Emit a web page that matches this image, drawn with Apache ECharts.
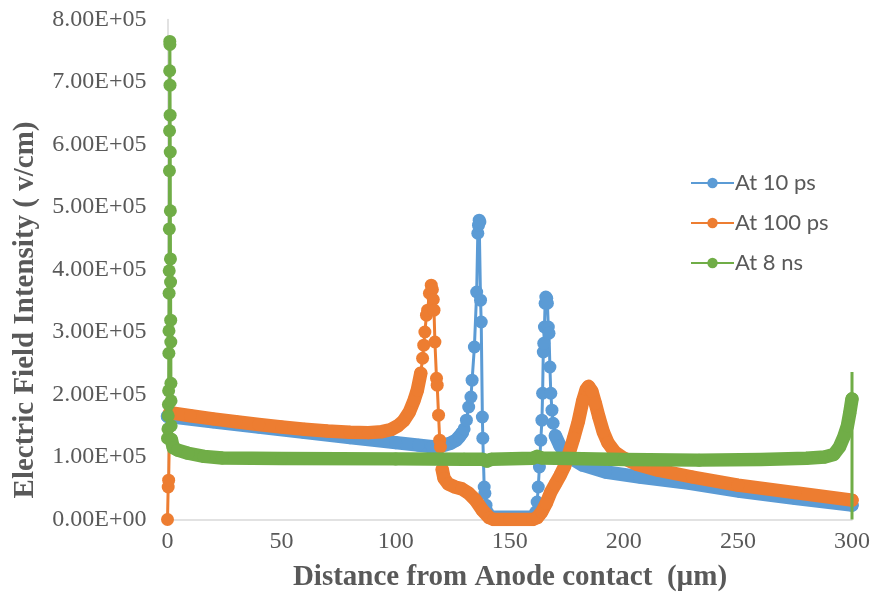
<!DOCTYPE html>
<html>
<head>
<meta charset="utf-8">
<script src="https://cdn.jsdelivr.net/npm/echarts@6/dist/echarts.min.js"></script>
<style>
  html, body { margin: 0; padding: 0; background: #ffffff; }
  #chart { width: 873px; height: 598px; }
</style>
</head>
<body>
<div id="chart"></div>
<script>
// Electric field profiles across the 300 µm detector, three time instants.
// Each point is [distance from anode (µm), field (V/cm)].

const seriesNames = ['At 10 ps', 'At 100 ps', 'At 8 ns'];
const seriesColors = ['#5B9BD5', '#ED7D31', '#70AD47'];

const xTicks = [0, 50, 100, 150, 200, 250, 300];
const yTicks = [0, 1e5, 2e5, 3e5, 4e5, 5e5, 6e5, 7e5, 8e5];

const field10ps = [
  [0, 165000], [20, 156500], [40, 148000], [60, 139500], [80, 131000],
  [100, 123000], [110, 119000], [116, 116500], [120, 117500], [124, 122000],
  [126.5, 127000], [128, 133000], [129.2, 139000],
  [130, 145000], [131, 159000], [132, 180000], [133, 196000], [133.5, 223000],
  [134.5, 276000], [135.5, 364000], [136, 458000], [136.3, 471000], [136.6, 479000],
  [136.9, 476000], [137.2, 351000], [137.5, 316000], [138, 164000], [138.2, 130000],
  [138.8, 52000], [139.1, 42000], [139.6, 23000], [140.2, 12000],
  [161.4, 12000], [162, 28000], [162.5, 52000], [163, 84000], [163.6, 127000],
  [164.1, 159000], [164.4, 202000], [164.7, 268000], [164.9, 282000], [165.2, 308000],
  [165.5, 346000], [165.8, 356000], [166.2, 354000], [166.5, 346000], [166.9, 308000],
  [167.2, 298000], [167.6, 244000], [168, 202000], [168.5, 175000], [169, 154000],
  [170, 134000], [172, 118000], [176, 100000], [182, 87000], [192, 76000],
  [207, 68000], [229, 58000], [251, 45000], [275, 34000], [300, 23000]
];

const field100ps = [
  [0, 0], [0.3, 52000], [0.5, 63000],
  [1, 171000], [10, 166000], [20, 161000], [30, 156500], [40, 152000], [50, 148000],
  [60, 144500], [70, 141500], [80, 139500], [88, 139000], [94, 140500], [98, 144000],
  [101, 150000], [103.5, 158000], [106, 172000], [108, 190000], [109.5, 207000], [111, 234000],
  [111.8, 258000], [112.3, 279000], [112.8, 300000], [113.5, 327000], [114, 335000],
  [114.8, 362000], [115.6, 375000], [116.1, 368000], [116.5, 352000], [116.8, 335000],
  [117.2, 284000], [117.9, 226000], [118.2, 215000], [118.8, 167000], [119.3, 127000],
  [119.6, 116000],
  [120.4, 80000], [121.2, 66000], [123, 57000], [126, 52000], [129, 49000], [132, 42000],
  [135, 31000], [138, 15000], [141, 3000], [143, 0], [150, 0], [160, 0],
  [162, 3000], [164, 12000], [166, 26000], [168, 44000], [170, 57000], [172, 70000],
  [174, 85000], [176, 106000], [178, 130000], [180, 156000], [182, 190000],
  [183.5, 208000], [184.5, 213000], [186, 205000], [187.5, 186000], [189, 165000],
  [191, 140000], [193, 123000], [196, 108000], [200, 98000], [206, 88000],
  [215, 79000], [230, 68000], [250, 55000], [275, 43000], [300, 31000]
];

const field8ns = [
  [0, 130000], [0.2, 145000], [0.3, 166000], [0.4, 184000], [0.5, 206000],
  [0.6, 266000], [0.65, 302000], [0.7, 362000], [0.75, 398000], [0.8, 465000],
  [0.85, 558000], [0.9, 622000], [0.95, 718000], [1.0, 765000],
  [1.05, 760000], [1.1, 695000], [1.15, 647000], [1.2, 588000], [1.25, 494000],
  [1.3, 417000], [1.35, 380000], [1.4, 319000], [1.45, 284000], [1.5, 218000],
  [1.55, 190000], [1.6, 150000], [1.7, 128000],
  [2.5, 115000], [4.5, 111000], [9, 106000], [16, 101000], [24, 98500],
  [50, 97500], [100, 97000], [130, 96500], [138, 96500], [140, 93500], [142, 96500],
  [160, 98000], [162, 101000], [164, 98500], [200, 96000], [233, 95000],
  [260, 96000], [280, 98000], [288, 100000], [292, 104000], [294.5, 116000],
  [296.5, 133000], [298, 150000], [299, 170000], [300, 193000]
];
// trailing edge of the 8 ns trace at the cathode (drawn without markers)
const field8nsEdge = [[300, 236000], [300, 0]];

// x-intervals (µm) where the samples are coarse and show as separate markers
const sparse10ps = [[129.5, 170]];
const sparse100ps = [[-1, 0.8], [111.5, 120]];
const sparse8ns = [[-1, 1.65]];

function sci(v) {
  const parts = Number(v).toExponential(2).split('e');
  const exp = parseInt(parts[1], 10);
  const sign = exp < 0 ? '-' : '+';
  const digits = String(Math.abs(exp)).padStart(2, '0');
  return parts[0] + 'E' + sign + digits;
}

function inSpans(x, spans) {
  return spans.some(s => x > s[0] && x < s[1]);
}

// densely sampled stretches: rendered as a continuous thick band
function bandData(points, spans) {
  return points.map(p => (inSpans(p[0], spans) ? null : p));
}

const MARK = 13;
const BAND = 13.5;

function traceSeries(name, color, points, z, extra) {
  const data = points.slice();
  if (extra) {
    extra.forEach(p => data.push({ value: p, symbol: 'none' }));
  }
  return {
    name: name,
    type: 'line',
    data: data,
    z: z,
    symbol: 'circle',
    symbolSize: MARK,
    showAllSymbol: true,
    itemStyle: { color: color },
    lineStyle: { color: color, width: 3 },
    emphasis: { disabled: true },
    silent: true
  };
}

function bandSeries(name, color, points, spans, z) {
  return {
    name: name + ' ',
    type: 'line',
    data: bandData(points, spans),
    z: z,
    symbol: 'none',
    connectNulls: false,
    lineStyle: { color: color, width: BAND, cap: 'round', join: 'round' },
    emphasis: { disabled: true },
    silent: true
  };
}

const chart = echarts.init(document.getElementById('chart'), null, { renderer: 'canvas' });

const axisGray = '#d9d9d9';
const labelGray = '#595959';
const serif = '"Liberation Serif", "Times New Roman", serif';

chart.setOption({
  animation: false,
  backgroundColor: '#ffffff',
  grid: { left: 167.5, right: 20.5, top: 19.5, bottom: 78.5, containLabel: false },
  xAxis: {
    type: 'value',
    min: xTicks[0],
    max: xTicks[xTicks.length - 1],
    interval: xTicks[1] - xTicks[0],
    axisLine: { show: true, onZero: false, lineStyle: { color: axisGray, width: 1.5 } },
    axisTick: { show: false },
    splitLine: { show: false },
    axisLabel: { color: labelGray, fontFamily: serif, fontSize: 24, margin: 10 }
  },
  yAxis: {
    type: 'value',
    min: yTicks[0],
    max: yTicks[yTicks.length - 1],
    interval: yTicks[1] - yTicks[0],
    axisLine: { show: true, onZero: false, lineStyle: { color: axisGray, width: 1.5 } },
    axisTick: { show: false },
    splitLine: { show: false },
    axisLabel: { color: labelGray, fontFamily: serif, fontSize: 24, margin: 21, formatter: sci }
  },
  legend: {
    data: seriesNames,
    orient: 'vertical',
    left: 685,
    top: 167,
    itemWidth: 43,
    itemHeight: 13,
    itemGap: 18,
    textStyle: { color: labelGray, fontFamily: 'Lato, "Open Sans", sans-serif', fontSize: 22, padding: [0, 0, 0, -4] },
    selectedMode: false
  },
  graphic: [
    {
      type: 'text',
      x: 510,
      y: 578,
      style: {
        text: 'Distance from Anode contact  (µm)',
        font: 'bold 29px ' + serif,
        fill: labelGray,
        align: 'center',
        verticalAlign: 'middle'
      }
    },
    {
      type: 'text',
      x: 26,
      y: 310,
      rotation: Math.PI / 2,
      style: {
        text: 'Electric Field Intensity ( v/cm)',
        font: 'bold 29px ' + serif,
        fill: labelGray,
        align: 'center',
        verticalAlign: 'middle'
      }
    }
  ],
  series: [
    traceSeries(seriesNames[0], seriesColors[0], field10ps, 2),
    traceSeries(seriesNames[1], seriesColors[1], field100ps, 3),
    traceSeries(seriesNames[2], seriesColors[2], field8ns, 4, field8nsEdge),
    bandSeries(seriesNames[0], seriesColors[0], field10ps, sparse10ps, 2),
    bandSeries(seriesNames[1], seriesColors[1], field100ps, sparse100ps, 3),
    bandSeries(seriesNames[2], seriesColors[2], field8ns, sparse8ns, 4)
  ]
});
</script>
</body>
</html>
